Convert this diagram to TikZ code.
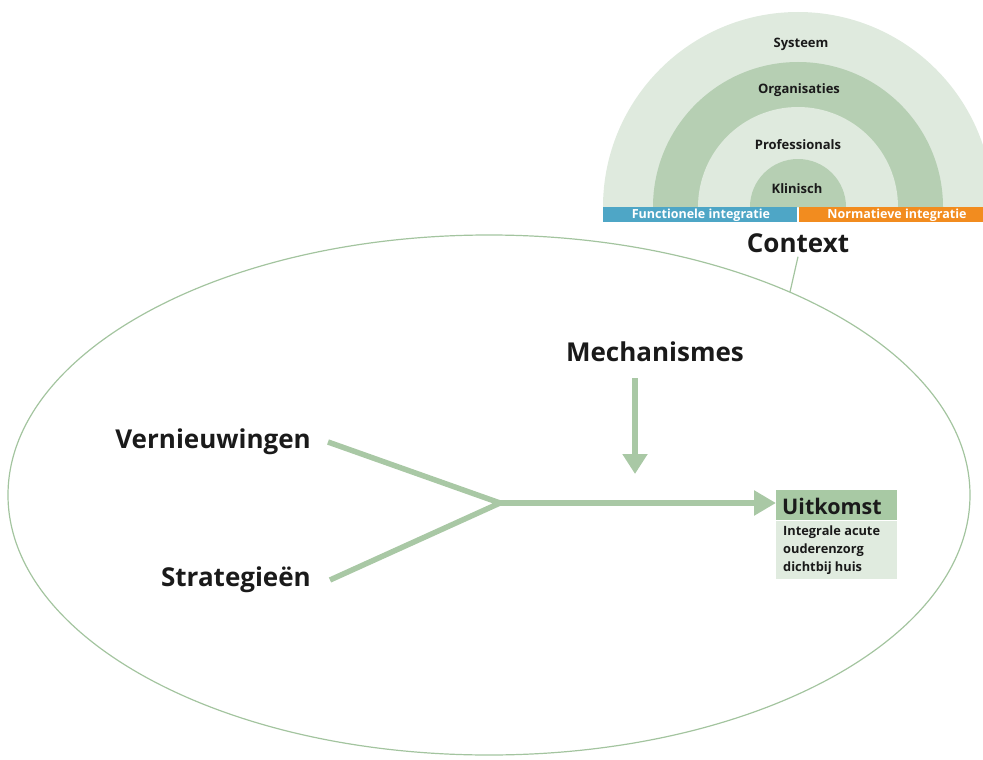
\documentclass[tikz,border=0pt]{standalone}
\usepackage{fontspec}
\setmainfont{Open Sans}
\usetikzlibrary{arrows.meta}
\definecolor{ringlight}{HTML}{DFEADE}
\definecolor{ringdark}{HTML}{B6CFB3}
\definecolor{arrowgreen}{HTML}{A9C8A5}
\definecolor{ellgreen}{HTML}{A3C49F}
\definecolor{barblue}{HTML}{4EA6C6}
\definecolor{barorange}{HTML}{F28C1F}
\definecolor{txt}{HTML}{1A1A1A}
\definecolor{boxhead}{HTML}{A8C9A4}
\definecolor{boxbody}{HTML}{E0EBDF}
\tikzset{
  biglabel/.style={font=\bfseries\fontsize{26}{30}\selectfont, text=txt, inner sep=0pt},
  ringlabel/.style={font=\bfseries\fontsize{13}{15}\selectfont, text=txt, inner sep=0pt},
  barlabel/.style={font=\bfseries\fontsize{12.5}{14}\selectfont, text=white, inner sep=0pt},
  flow/.style={draw=arrowgreen, line width=5.5pt},
}
\begin{document}
\begin{tikzpicture}[x=1pt,y=-1pt]
\useasboundingbox (0,0) rectangle (983,760);
\begin{scope}
\clip (0,0) rectangle (983,760);
% semicircle rings
\fill[ringlight] (603,207) arc[start angle=180,end angle=360,radius=195] -- cycle;
\fill[ringdark] (653,207) arc[start angle=180,end angle=360,radius=145] -- cycle;
\fill[ringlight] (698,207) arc[start angle=180,end angle=360,radius=100] -- cycle;
\fill[ringdark] (750,207) arc[start angle=180,end angle=360,radius=48] -- cycle;
% bars
\fill[barblue] (603,207) rectangle (797,222);
\fill[barorange] (799,207) rectangle (983,222);
\end{scope}
\node[ringlabel] (sys) at (801,44) {Systeem};
\node[ringlabel] (org) at (799,90) {Organisaties};
\node[ringlabel] (prof) at (798,145) {Professionals};
\node[ringlabel] (klin) at (797,189) {Klinisch};
\node[barlabel] (func) at (701,215) {Functionele integratie};
\node[barlabel] (norm) at (897,215) {Normatieve integratie};
\node[biglabel] (context) at (798,243) {Context};
% ellipse
\draw[ellgreen, line width=1.2pt] (489,495) ellipse[x radius=481, y radius=260];
\coordinate (ellpt) at (790,292);
\draw[ellgreen, line width=1.2pt] (ellpt) -- ([yshift=-4pt]context.south);
% labels
\node[biglabel] (mech) at (655,352) {Mechanismes};
\node[biglabel, anchor=east] (vern) at (311,442) {Vernieuwingen};
\node[biglabel, anchor=east] (strat) at (311,580) {Strategieën};
% outcome box
\node[fill=boxhead, minimum width=121pt, minimum height=30pt, inner sep=0pt, anchor=north west] (head) at (776,490) {};
\node[font=\bfseries\fontsize{21.5}{24}\selectfont, text=txt, anchor=west, inner sep=0pt] (uit) at ([xshift=6pt,yshift=-1pt]head.west) {Uitkomst};
\node[fill=boxbody, minimum width=121pt, minimum height=58pt, inner sep=0pt, anchor=north west] (body) at (head.south west) {};
\node[font=\bfseries\fontsize{12.8}{18}\selectfont, text=txt, anchor=north west, align=left, inner sep=0pt] (bodytxt) at ([xshift=7pt,yshift=-5pt]body.north west) {Integrale acute\\ouderenzorg\\dichtbij huis};
% flows
\coordinate (vend) at (328,442);
\coordinate (send) at (330,580);
\coordinate (join) at (500,503);
\coordinate (mtop) at (635,378);
\coordinate (mbot) at (635,474);
\draw[flow, line join=miter] (vend) -- (join) -- (send);
\draw[flow, -{Triangle[length=22pt,width=24pt]}] (join) -- (head.west |- join);
\draw[flow, -{Triangle[length=20pt,width=24pt]}] (mtop) -- (mbot);
\end{tikzpicture}
\end{document}
